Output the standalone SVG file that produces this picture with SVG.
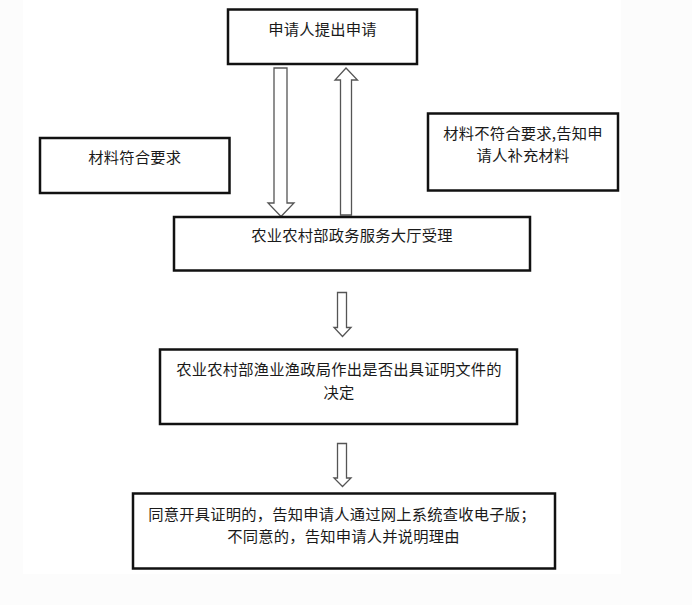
<svg xmlns="http://www.w3.org/2000/svg" width="692" height="605" viewBox="0 0 692 605">
<style>
.box{fill:#fff;stroke:#111;stroke-width:2.5}
.arr{fill:#fff;stroke:#555;stroke-width:1.3;stroke-linejoin:miter}
text{font-family:"Noto Sans CJK SC","Noto Sans",sans-serif;font-size:15.3px;letter-spacing:0.2px;fill:#1a1a1a;text-anchor:middle}
</style>
<rect x="0" y="0" width="692" height="605" fill="#fcfcfc"/>
<rect x="23" y="0" width="598" height="574" fill="#fff"/>
<g id="connectors">
<path class="arr" d="M274,68 H287 V203 H294 L281,216.5 L268,203 H274 Z"/>
<path class="arr" d="M346,68 L357.5,80 H351.5 V215 H340.5 V80 H335 Z"/>
<path class="arr" d="M337.5,292.5 H346.5 V327.5 H351 L342.5,336.5 L334,327.5 H337.5 Z"/>
<path class="arr" d="M337.5,443.5 H346.5 V478 H351 L342.5,486.5 L334,478 H337.5 Z"/>
</g>
<g id="n1"><rect class="box" x="228" y="9.5" width="189" height="54.5"/><text x="322.5" y="35">申请人提出申请</text></g>
<g id="n2"><rect class="box" x="40" y="138" width="189.5" height="55"/><text x="134.7" y="162.5">材料符合要求</text></g>
<g id="n3"><rect class="box" x="428" y="113.5" width="190" height="77"/><text x="523" y="139">材料不符合要求,告知申</text><text x="523" y="160.5">请人补充材料</text></g>
<g id="n4"><rect class="box" x="174" y="217" width="356" height="53.5"/><text x="352" y="241">农业农村部政务服务大厅受理</text></g>
<g id="n5"><rect class="box" x="160" y="349.5" width="357" height="74.5"/><text x="339" y="374.8">农业农村部渔业渔政局作出是否出具证明文件的</text><text x="339" y="398">决定</text></g>
<g id="n6"><rect class="box" x="133" y="493.5" width="422" height="75"/><text x="342" y="519.8">同意开具证明的，告知申请人通过网上系统查收电子版；</text><text x="343.5" y="542">不同意的，告知申请人并说明理由</text></g>
</svg>
